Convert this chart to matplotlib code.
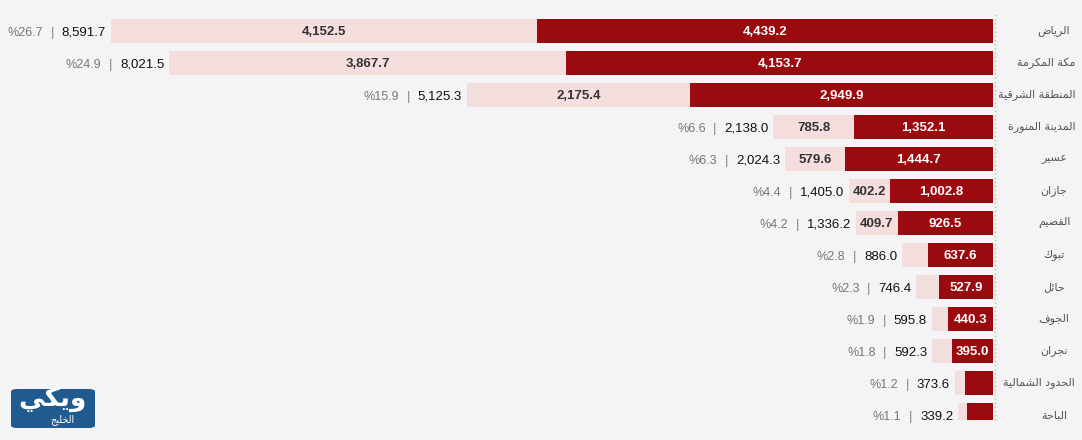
import matplotlib
matplotlib.use("Agg")
import matplotlib.pyplot as plt
from matplotlib.offsetbox import TextArea, HPacker, AnnotationBbox
from matplotlib.transforms import Bbox, TransformedBbox
from matplotlib.lines import Line2D
from matplotlib.patches import FancyBboxPatch

# ---------------- data ----------------
categories = ["الرياض", "مكة المكرمة", "المنطقة الشرقية", "المدينة المنورة", "عسير",
              "جازان", "القصيم", "تبوك", "حائل", "الجوف", "نجران",
              "الحدود الشمالية", "الباحة"]
dark_values = [4439.2, 4153.7, 2949.9, 1352.1, 1444.7, 1002.8, 926.5, 637.6,
               527.9, 440.3, 395.0, 276.0, 253.5]
light_values = [4152.5, 3867.7, 2175.4, 785.8, 579.6, 402.2, 409.7, 248.4,
                218.5, 155.5, 197.3, 97.6, 85.7]
totals = [8591.7, 8021.5, 5125.3, 2138.0, 2024.3, 1405.0, 1336.2, 886.0,
          746.4, 595.8, 592.3, 373.6, 339.2]
percents = [26.7, 24.9, 15.9, 6.6, 6.3, 4.4, 4.2, 2.8, 2.3, 1.9, 1.8, 1.2, 1.1]
logo_main = "ويكي"
logo_sub = "الخليج"

# ---------------- Arabic shaping (presentation forms, visual order) ----------------
FORMS = {
    'ء': (0xFE80, None, None, None),
    'آ': (0xFE81, 0xFE82, None, None), 'أ': (0xFE83, 0xFE84, None, None),
    'ؤ': (0xFE85, 0xFE86, None, None), 'إ': (0xFE87, 0xFE88, None, None),
    'ئ': (0xFE89, 0xFE8A, 0xFE8B, 0xFE8C), 'ا': (0xFE8D, 0xFE8E, None, None),
    'ب': (0xFE8F, 0xFE90, 0xFE91, 0xFE92), 'ة': (0xFE93, 0xFE94, None, None),
    'ت': (0xFE95, 0xFE96, 0xFE97, 0xFE98), 'ث': (0xFE99, 0xFE9A, 0xFE9B, 0xFE9C),
    'ج': (0xFE9D, 0xFE9E, 0xFE9F, 0xFEA0), 'ح': (0xFEA1, 0xFEA2, 0xFEA3, 0xFEA4),
    'خ': (0xFEA5, 0xFEA6, 0xFEA7, 0xFEA8), 'د': (0xFEA9, 0xFEAA, None, None),
    'ذ': (0xFEAB, 0xFEAC, None, None), 'ر': (0xFEAD, 0xFEAE, None, None),
    'ز': (0xFEAF, 0xFEB0, None, None), 'س': (0xFEB1, 0xFEB2, 0xFEB3, 0xFEB4),
    'ش': (0xFEB5, 0xFEB6, 0xFEB7, 0xFEB8), 'ص': (0xFEB9, 0xFEBA, 0xFEBB, 0xFEBC),
    'ض': (0xFEBD, 0xFEBE, 0xFEBF, 0xFEC0), 'ط': (0xFEC1, 0xFEC2, 0xFEC3, 0xFEC4),
    'ظ': (0xFEC5, 0xFEC6, 0xFEC7, 0xFEC8), 'ع': (0xFEC9, 0xFECA, 0xFECB, 0xFECC),
    'غ': (0xFECD, 0xFECE, 0xFECF, 0xFED0), 'ف': (0xFED1, 0xFED2, 0xFED3, 0xFED4),
    'ق': (0xFED5, 0xFED6, 0xFED7, 0xFED8), 'ك': (0xFED9, 0xFEDA, 0xFEDB, 0xFEDC),
    'ل': (0xFEDD, 0xFEDE, 0xFEDF, 0xFEE0), 'م': (0xFEE1, 0xFEE2, 0xFEE3, 0xFEE4),
    'ن': (0xFEE5, 0xFEE6, 0xFEE7, 0xFEE8), 'ه': (0xFEE9, 0xFEEA, 0xFEEB, 0xFEEC),
    'و': (0xFEED, 0xFEEE, None, None), 'ى': (0xFEEF, 0xFEF0, None, None),
    'ي': (0xFEF1, 0xFEF2, 0xFEF3, 0xFEF4),
}


def shape(s):
    def dual(c):
        return c in FORMS and FORMS[c][2] is not None
    out = []
    for i, c in enumerate(s):
        if c not in FORMS:
            out.append(c)
            continue
        prev = s[i - 1] if i > 0 else ''
        nxt = s[i + 1] if i < len(s) - 1 else ''
        jp = dual(prev)
        jn = dual(c) and nxt in FORMS
        iso, fin, ini, med = FORMS[c]
        if jp and jn:
            cp = med
        elif jp:
            cp = fin
        elif jn:
            cp = ini
        else:
            cp = iso
        out.append(chr(cp))
    return ''.join(reversed(out))


# ---------------- figure ----------------
W, H, DPI = 1082, 440, 100
BG = "#f4f4f4"
DARK = "#9b0a0e"
LIGHT = "#f4dede"
NUMFONT = ["Liberation Sans", "DejaVu Sans"]

fig = plt.figure(figsize=(W / DPI, H / DPI), dpi=DPI, facecolor=BG)
ax_left_px, ax_right_px, ax_top_px, ax_bot_px = 0, 993, 14.9, 420
ax = fig.add_axes([ax_left_px / W, 1 - ax_bot_px / H,
                   (ax_right_px - ax_left_px) / W, (ax_bot_px - ax_top_px) / H])
ax.set_facecolor(BG)
px_per_unit = 0.1027
ax.set_xlim((ax_right_px - ax_left_px) / px_per_unit, 0)
row_px = 32.0
ax.set_ylim((ax_bot_px - ax_top_px) / row_px - 0.5, -0.5)
ax.axis("off")

ys = list(range(len(categories)))
bar_h = 0.75
ax.barh(ys, dark_values, height=bar_h, color=DARK, left=0, zorder=2)
ax.barh(ys, light_values, height=bar_h, color=LIGHT, left=dark_values, zorder=2)

min_px_for_label = 36
for i in ys:
    d, l = dark_values[i], light_values[i]
    if d * px_per_unit >= min_px_for_label:
        ax.text(d / 2, i, f"{d:,.1f}", ha="center", va="center_baseline", color="white",
                fontsize=9.5, fontweight="bold", family=NUMFONT, zorder=3)
    if l * px_per_unit >= min_px_for_label:
        ax.text(d + l / 2, i, f"{l:,.1f}", ha="center", va="center_baseline", color="#333333",
                fontsize=9.5, fontweight="bold", family=NUMFONT, zorder=3)
    # outside label: %pct | total
    pack = HPacker(children=[
        TextArea(f"%{percents[i]:.1f}", textprops=dict(color="#777777", fontsize=9.0, family=NUMFONT)),
        TextArea("|", textprops=dict(color="#8a8a8a", fontsize=9.5, family=NUMFONT)),
        TextArea(f"{totals[i]:,.1f}", textprops=dict(color="#111111", fontsize=9.5, family=NUMFONT)),
    ], sep=5.5, pad=0, align="baseline")
    ab = AnnotationBbox(pack, (d + l, i), xybox=(-3.5, -1.2), xycoords="data",
                        boxcoords="offset points", box_alignment=(1, 0.5),
                        frameon=False, pad=0, annotation_clip=False)
    ax.add_artist(ab)

# category labels on the right; long ones are right-anchored and clipped at the plot edge
clip = TransformedBbox(Bbox.from_extents(999 / W, 0, 1, 1), fig.transFigure)
renderer = fig.canvas.get_renderer()
label_center_px, label_right_px, max_centered_w = 1054, 1075, 42
for i, cat in enumerate(categories):
    y_px = ax_top_px + (i + 0.5) * row_px
    t = fig.text(label_center_px / W, 1 - y_px / H, shape(cat), ha="center", va="center",
                 fontsize=8.0, color="#555555", family=["DejaVu Sans"])
    w = t.get_window_extent(renderer).width
    if w > max_centered_w:
        t.set_horizontalalignment("right")
        t.set_x(label_right_px / W)
    t.set_clip_box(clip)
    t.set_clip_on(True)

# dotted baseline
fig.add_artist(Line2D([994.5 / W, 994.5 / W], [1 - 420 / H, 1 - 14 / H],
                      transform=fig.transFigure, ls=(0, (1, 2)), color="#bbbbbb", lw=1))

# logo
logo = FancyBboxPatch((11 / W, 1 - 428 / H), 84 / W, 39 / H,
                      boxstyle="round,pad=0,rounding_size=0.006",
                      transform=fig.transFigure, facecolor="#1f5b8f", edgecolor="none")
fig.add_artist(logo)
fig.text(53 / W, 1 - 399 / H, shape(logo_main), ha="center", va="center",
         fontsize=19, fontweight="bold", color="white", family=["DejaVu Sans"])
fig.text(62 / W, 1 - 420 / H, shape(logo_sub), ha="center", va="center",
         fontsize=7, color="white", family=["DejaVu Sans"])

fig.savefig("out.png", dpi=DPI, facecolor=BG)
